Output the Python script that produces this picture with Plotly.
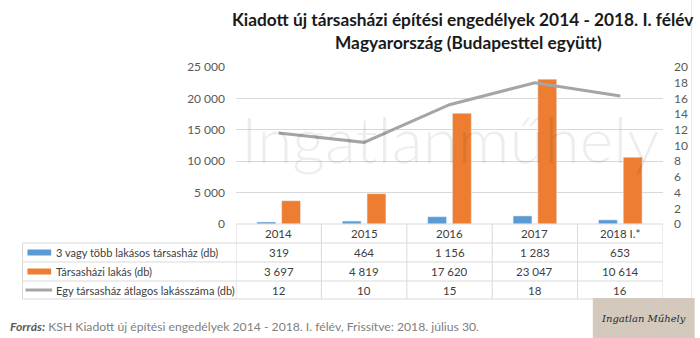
import plotly.graph_objects as go

years = ["2014", "2015", "2016", "2017", "2018 I.*"]
buildings = [319, 464, 1156, 1283, 653]
flats = [3697, 4819, 17620, 23047, 10614]
avg_line = [11.6, 10.4, 15.2, 18.0, 16.3]
avg_table = [12, 10, 15, 18, 16]
series_names = ["3 vagy több lakásos társasház (db)", "Társasházi lakás (db)",
                "Egy társasház átlagos lakásszáma (db)"]

BLUE = "#5B9BD5"
ORANGE = "#ED7D31"
GRAY = "#A5A5A5"
GRID = "#D9D9D9"
TXT = "#404040"
FONT = "Lato, Roboto, sans-serif"

W, H = 700, 338
L, R, T, B = 236, 668, 67, 224  # plot area in pixels


def py(Y):
    return (B - Y) / (B - T)


def px(X):
    return (X - L) / (R - L)


def fmt(v):
    return f"{v:,}".replace(",", " ")


fig = go.Figure()
fig.add_trace(go.Bar(x=years, y=buildings, name=series_names[0], marker_color=BLUE))
fig.add_trace(go.Bar(x=years, y=flats, name=series_names[1], marker_color=ORANGE))
fig.add_trace(go.Scatter(x=years, y=avg_line, name=series_names[2], mode="lines",
                         line=dict(color=GRAY, width=3), yaxis="y2"))

shapes = []
annotations = []


def txt(text, X, Y, size=11, color=TXT, xanchor="center", xref="paper", family=FONT):
    annotations.append(dict(text=text, x=X if xref != "paper" else px(X), y=py(Y), xref=xref, yref="paper",
                            xanchor=xanchor, yanchor="middle", showarrow=False,
                            font=dict(family=family, size=size, color=color)))


# title
txt("<b>Kiadott új társasházi építési engedélyek 2014 - 2018. I. félév</b>", 466, 19, size=17.3, color="#1a1a1a")
txt("<b>Magyarország (Budapesttel együtt)</b>", 471, 42, size=17.3, color="#1a1a1a")

# watermark (behind data via layer)
annotations.append(dict(text="Ingatlanműhely", x=px(452), y=py(138), xref="paper", yref="paper",
                        xanchor="center", yanchor="middle", showarrow=False,
                        font=dict(family="Lato, sans-serif", size=64, color="rgba(0,0,0,0.07)", weight=300)))

line_style = dict(color=GRID, width=1)
row_y = [224, 243, 262, 281, 299]
shapes.append(dict(type="line", xref="paper", yref="paper", x0=0, x1=1, y0=py(224), y1=py(224), line=line_style))
for Y in row_y[1:]:
    shapes.append(dict(type="line", xref="paper", yref="paper", x0=px(20), x1=1, y0=py(Y), y1=py(Y), line=line_style))
shapes.append(dict(type="line", xref="paper", yref="paper", x0=px(20), x1=px(20), y0=py(243), y1=py(299), line=line_style))
for i in range(len(years) + 1):
    shapes.append(dict(type="line", xref="x", yref="paper", x0=i - 0.5, x1=i - 0.5, y0=py(224), y1=py(299), line=line_style))

# header years
for i, yr in enumerate(years):
    txt(yr, i, 233.5, xref="x", size=11.5)

rows = [[fmt(v) for v in buildings], [fmt(v) for v in flats], [str(v) for v in avg_table]]
for r, vals in enumerate(rows):
    yc = (row_y[r + 1] + row_y[r + 2]) / 2
    for i, v in enumerate(vals):
        txt(v, i, yc, xref="x", size=11.5)
    txt(series_names[r], 52, yc, xanchor="left", size=11)

# legend keys
shapes.append(dict(type="rect", xref="paper", yref="paper", x0=px(25), x1=px(49), y0=py(255.5), y1=py(249.5),
                   fillcolor=BLUE, line=dict(width=0)))
shapes.append(dict(type="rect", xref="paper", yref="paper", x0=px(25), x1=px(49), y0=py(274.5), y1=py(268.5),
                   fillcolor=ORANGE, line=dict(width=0)))
shapes.append(dict(type="line", xref="paper", yref="paper", x0=px(23), x1=px(50), y0=py(290), y1=py(290),
                   line=dict(color=GRAY, width=3)))

# right faint border
shapes.append(dict(type="line", xref="paper", yref="paper", x0=px(697), x1=px(697), y0=py(0), y1=py(298),
                   line=dict(color="#E6E6E6", width=1)))

# logo placeholder
shapes.append(dict(type="rect", xref="paper", yref="paper", x0=px(597), x1=px(700), y0=py(338), y1=py(298),
                   fillcolor="#D3CABD", line=dict(width=0)))
txt("<i>Ingatlan Műhely</i>", 648, 318, size=10, color="#2b2b2b", family="DejaVu Serif")

# footer
txt("<b><i>Forrás:</i></b> <span style='color:#808080'>KSH Kiadott új építési engedélyek 2014 - 2018. I. félév, Frissítve: 2018. július 30.</span>",
    5, 326, size=12.2, color="#595959", xanchor="left")

fig.update_layout(
    width=W, height=H,
    margin=dict(l=L, r=W - R, t=T, b=H - B, pad=0),
    paper_bgcolor="white", plot_bgcolor="white",
    separators=", ",
    barmode="group", bargap=0.42, bargroupgap=0.24,
    showlegend=False,
    xaxis=dict(range=[-0.5, len(years) - 0.5], showticklabels=False, showgrid=False, zeroline=False,
               showline=False, ticks=""),
    yaxis=dict(range=[0, 25000], dtick=5000, tickformat=",", gridcolor=GRID, gridwidth=1,
               zeroline=False, showline=False, ticks="",
               tickfont=dict(family=FONT, size=12, color="#595959"), ticklabelstandoff=10),
    yaxis2=dict(range=[0, 20], dtick=2, overlaying="y", side="right", showgrid=False, zeroline=False,
                showline=False, tickfont=dict(family=FONT, size=12, color="#595959"), ticklabelstandoff=10),
    shapes=shapes, annotations=annotations,
)

fig.write_html("out.html")
